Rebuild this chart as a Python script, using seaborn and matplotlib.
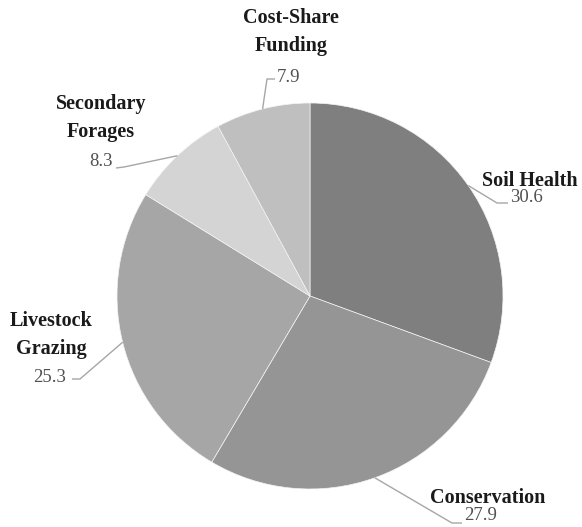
import numpy as np
import matplotlib
matplotlib.use("Agg")
import matplotlib.pyplot as plt
import seaborn as sns

# Share of responses by topic (percent)
categories = ["Soil Health", "Conservation", "Livestock Grazing",
              "Secondary Forages", "Cost-Share Funding"]
values = [30.6, 27.9, 25.3, 8.3, 7.9]
name_lines = ["Soil Health", "Conservation", "Livestock\nGrazing",
              "Secondary\nForages", "Cost-Share\nFunding"]
value_labels = ["30.6", "27.9", "25.3", "8.3", "7.9"]
colors = ["#7f7f7f", "#959595", "#a6a6a6", "#d4d4d4", "#bfbfbf"]

# Layout in pixel space of the 582x527 canvas
W, H = 582, 527
CX, CY, R = 310, 296, 193
name_pos = [(530, 181), (488, 498), (51, 335), (101, 118), (291, 32)]
value_pos = [(526, 198), (481, 516), (50, 377), (101, 162), (289, 77)]
elbow_pos = [(497, 203), (452, 523), (80, 379), (124, 167), (267, 79)]
end_pos = [(508, 203), (462, 523), (72, 379), (116, 168), (275, 79)]


def px(x, y):
    return ((x - CX) / R, (CY - y) / R)


sns.set_style("white")
plt.rcParams["font.family"] = ["Liberation Serif", "DejaVu Serif"]

fig = plt.figure(figsize=(W / 100, H / 100), dpi=100)
ax = fig.add_axes([0, 0, 1, 1])

wedges, _ = ax.pie(values, startangle=90, counterclock=False, colors=colors,
                   radius=1.0,
                   wedgeprops=dict(edgecolor="#f4f4f4", linewidth=0.5))
ax.set_aspect("auto")
ax.set_xlim(-CX / R, (W - CX) / R)
ax.set_ylim(-(H - CY) / R, CY / R)
ax.axis("off")

for w, name, val, npos, vpos, el, en in zip(wedges, name_lines, value_labels,
                                            name_pos, value_pos, elbow_pos, end_pos):
    mid = np.deg2rad((w.theta1 + w.theta2) / 2)
    start = (np.cos(mid), np.sin(mid))
    e1, e2 = px(*el), px(*en)
    ax.plot([start[0], e1[0], e2[0]], [start[1], e1[1], e2[1]],
            color="#a6a6a6", lw=1.0, solid_capstyle="butt")
    ax.text(*px(*npos), name, ha="center", va="center", fontsize=14.5,
            fontweight="bold", color="#1a1a1a", linespacing=1.55)
    ax.text(*px(*vpos), val, ha="center", va="center", fontsize=13.5,
            color="#505050")

fig.savefig("out.png", dpi=100)
